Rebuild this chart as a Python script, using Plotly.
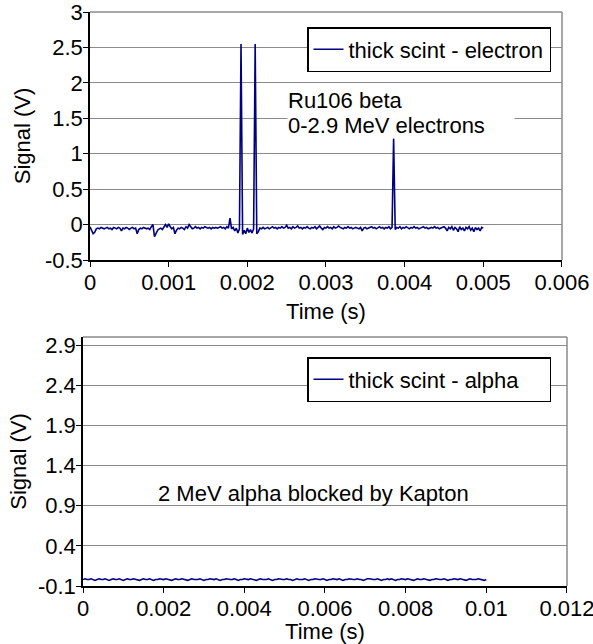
import plotly.graph_objects as go

W, H = 593, 644

# ---------------- data ----------------
# top chart: thick scint - electron (sampled every 20 us, 0 .. 0.005 s)
electron_dt = 0.00002
electron_signal = [
    -0.03, -0.08, -0.13, -0.11, -0.06, -0.05, -0.06, -0.04, -0.05, -0.06,
    -0.05, -0.04, -0.06, -0.05, -0.07, -0.04, -0.05, -0.06, -0.04, -0.05,
    -0.09, -0.05, -0.06, -0.04, -0.05, -0.07, -0.05, -0.04, -0.06, -0.05,
    -0.13, -0.07, -0.05, -0.06, -0.04, -0.05, -0.06, -0.05, -0.07, -0.03,
    0.00, -0.17, -0.12, -0.08, -0.06, -0.05, -0.07, -0.03, 0.00, -0.04,
    0.01, -0.03, -0.06, -0.04, -0.13, -0.08, -0.05, -0.06, -0.04, -0.05,
    -0.07, -0.03, -0.05, 0.00, -0.04, -0.06, -0.05, -0.03, -0.05, -0.04,
    -0.06, -0.04, -0.05, -0.03, -0.04, -0.05, -0.04, -0.06, -0.04, -0.05,
    -0.04, -0.05, -0.04, -0.03, -0.05, -0.04, -0.06, -0.03, -0.05, 0.09,
    -0.06, -0.04, -0.09, -0.05, -0.12, -0.06, 2.55, -0.14, -0.08, -0.13,
    -0.05, -0.11, -0.07, -0.12, -0.06, 2.55, -0.13, -0.10, -0.05, -0.06,
    -0.04, -0.06, -0.05, -0.04, -0.06, -0.05, -0.03, -0.05, -0.04, -0.06,
    -0.04, -0.05, -0.03, -0.05, -0.04, -0.01, -0.05, -0.04, -0.06, -0.03,
    -0.05, -0.04, -0.02, -0.05, -0.04, -0.06, -0.04, -0.05, -0.03, -0.05,
    -0.06, -0.04, -0.05, -0.03, -0.06, -0.04, -0.02, -0.05, -0.07, -0.04,
    -0.05, -0.03, -0.05, -0.04, -0.06, -0.03, -0.05, -0.04, -0.02, -0.04,
    -0.05, -0.06, -0.04, -0.05, -0.03, -0.05, -0.04, -0.06, -0.05, -0.04,
    -0.05, -0.06, -0.04, -0.09, -0.05, -0.04, -0.06, -0.05, -0.04, -0.03,
    -0.05, -0.04, -0.06, -0.05, -0.03, -0.05, -0.04, -0.06, -0.04, -0.05,
    -0.03, -0.06, -0.04, 1.22, -0.07, -0.04, -0.05, -0.03, -0.06, -0.04,
    -0.05, -0.03, -0.05, -0.06, -0.04, -0.05, -0.03, -0.05, -0.04, -0.06,
    -0.05, -0.04, -0.03, -0.05, -0.04, -0.06, -0.05, -0.04, -0.05, -0.03,
    -0.05, -0.04, -0.06, -0.05, -0.04, -0.03, -0.05, -0.09, -0.04, -0.06,
    -0.03, -0.08, -0.04, -0.06, -0.10, -0.03, -0.07, -0.05, -0.09, -0.04,
    -0.06, -0.03, -0.08, -0.05, -0.10, -0.04, -0.07, -0.05, -0.09, -0.04,
    -0.05,
]
electron_time = [i * electron_dt for i in range(len(electron_signal))]

# bottom chart: thick scint - alpha (sampled every 50 us, 0 .. 0.01 s)
alpha_dt = 0.00005
alpha_signal = [
    -0.02, -0.01, -0.02, -0.02, -0.01, -0.02, -0.03, -0.02, -0.01, -0.02,
    -0.02, -0.01, -0.02, -0.03, -0.02, -0.01, -0.02, -0.02, -0.01, -0.02,
    -0.03, -0.02, -0.01, -0.02, -0.02, -0.01, -0.02, -0.02, -0.03, -0.02,
    -0.01, -0.02, -0.02, -0.01, -0.02, -0.03, -0.02, -0.02, -0.01, -0.02,
    -0.02, -0.01, -0.02, -0.02, -0.03, -0.02, -0.01, -0.02, -0.02, -0.01,
    -0.02, -0.02, -0.03, -0.02, -0.01, -0.02, -0.02, -0.02, -0.01, -0.02,
    -0.03, -0.02, -0.02, -0.01, -0.02, -0.02, -0.01, -0.02, -0.03, -0.02,
    -0.02, -0.01, -0.02, -0.02, -0.02, -0.01, -0.02, -0.03, -0.02, -0.02,
    -0.01, -0.02, -0.02, -0.01, -0.02, -0.02, -0.03, -0.02, -0.01, -0.02,
    -0.02, -0.02, -0.01, -0.02, -0.03, -0.02, -0.02, -0.01, -0.02, -0.02,
    -0.02, -0.01, -0.02, -0.02, -0.03, -0.02, -0.01, -0.02, -0.02, -0.02,
    -0.01, -0.02, -0.03, -0.02, -0.02, -0.01, -0.02, -0.02, -0.02, -0.01,
    -0.02, -0.03, -0.02, -0.02, -0.01, -0.02, -0.02, -0.01, -0.02, -0.03,
    -0.02, -0.02, -0.01, -0.02, -0.02, -0.02, -0.01, -0.02, -0.02, -0.03,
    -0.02, -0.01, -0.01, -0.02, -0.02, -0.02, -0.01, -0.02, -0.03, -0.02,
    -0.02, -0.01, -0.02, -0.01, -0.02, -0.03, -0.02, -0.02, -0.01, -0.02,
    -0.02, -0.01, -0.02, -0.02, -0.03, -0.02, -0.01, -0.02, -0.02, -0.01,
    -0.02, -0.02, -0.03, -0.02, -0.02, -0.01, -0.02, -0.02, -0.02, -0.01,
    -0.02, -0.03, -0.02, -0.02, -0.01, -0.02, -0.02, -0.01, -0.02, -0.02,
    -0.03, -0.02, -0.01, -0.02, -0.02, -0.02, -0.01, -0.02, -0.02, -0.03,
    -0.02,
]
alpha_time = [i * alpha_dt for i in range(len(alpha_signal))]

electron_label = "thick scint - electron"
alpha_label = "thick scint - alpha"
time_title = "Time (s)"
signal_title = "Signal (V)"
top_xticks = [0, 0.001, 0.002, 0.003, 0.004, 0.005, 0.006]
top_yticks = [-0.5, 0, 0.5, 1, 1.5, 2, 2.5, 3]
bottom_xticks = [0, 0.002, 0.004, 0.006, 0.008, 0.01, 0.012]
bottom_yticks = [-0.1, 0.4, 0.9, 1.4, 1.9, 2.4, 2.9]
top_note = ["Ru106 beta", "0-2.9 MeV electrons"]
bottom_note = "2 MeV alpha blocked by Kapton"

# ---------------- layout helpers ----------------
FONT = "Liberation Sans, Arial, sans-serif"
FS = 22
LINE = "#000080"
GRID = "#8a8a8a"

def px_x(p):
    return p / W

def px_y(p):
    return 1 - p / H

fig = go.Figure()
fig.add_trace(go.Scatter(x=electron_time, y=electron_signal, mode="lines",
                         name=electron_label, line=dict(color=LINE, width=1.6),
                         xaxis="x", yaxis="y", legend="legend"))
fig.add_trace(go.Scatter(x=alpha_time, y=alpha_signal, mode="lines",
                         name=alpha_label, line=dict(color=LINE, width=1.6),
                         xaxis="x2", yaxis="y2", legend="legend2"))

def xaxis(domain, rng, ticks, anchor, standoff):
    return dict(domain=domain, range=rng, tickvals=ticks,
                ticktext=[("%g" % t) for t in ticks], anchor=anchor,
                automargin=False, ticklabelstandoff=-3,
                ticklabeloverflow="allow",
                showgrid=False, zeroline=False, showline=True, linecolor="black",
                linewidth=1.5, ticks="outside", ticklen=5, tickcolor="black",
                tickfont=dict(family=FONT, size=FS, color="black"),
                title=dict(text=time_title, standoff=standoff,
                           font=dict(family=FONT, size=FS, color="black")),
                mirror=False)

def yaxis(domain, rng, ticks, anchor, standoff):
    return dict(domain=domain, range=rng, tickvals=ticks,
                ticktext=[("%g" % t) for t in ticks], anchor=anchor,
                automargin=False, ticklabelstandoff=-4,
                ticklabeloverflow="allow",
                showgrid=True, gridcolor=GRID, gridwidth=1.2, zeroline=False,
                showline=True, linecolor="black", linewidth=1.5,
                ticks="outside", ticklen=5, tickcolor="black",
                tickfont=dict(family=FONT, size=FS, color="black"),
                title=dict(text=signal_title, standoff=standoff,
                           font=dict(family=FONT, size=FS, color="black")))

top_dom_x = [px_x(90), px_x(562)]
top_dom_y = [px_y(260), px_y(12)]
bot_dom_x = [px_x(83), px_x(567)]
bot_dom_y = [px_y(586), px_y(337)]

legend_style = dict(xanchor="left", yanchor="top", orientation="h",
                    entrywidth=196, entrywidthmode="pixels",
                    bordercolor="black", borderwidth=1.5, bgcolor="white",
                    font=dict(family=FONT, size=FS, color="black"),
                    itemwidth=30, tracegroupgap=0)

fig.update_layout(
    width=W, height=H, margin=dict(l=0, r=0, t=0, b=0, autoexpand=False),
    paper_bgcolor="white", plot_bgcolor="white",
    font=dict(family=FONT, size=FS, color="black"),
    xaxis=xaxis(top_dom_x, [0, 0.006 * 1.0001], top_xticks, "y", 9),
    yaxis=yaxis(top_dom_y, [-0.5, 3.0003], top_yticks, "x", 8),
    xaxis2=xaxis(bot_dom_x, [0, 0.012 * 1.0001], bottom_xticks, "y2", 5),
    yaxis2=yaxis(bot_dom_y, [-0.1, 3.0003], bottom_yticks, "x2", 5),
    legend=dict(x=px_x(307), y=px_y(27), **legend_style),
    legend2=dict(x=px_x(307), y=px_y(357), **legend_style),
    showlegend=True,
)

# plot-area borders (right / top) in grey
for dx, dy in ((top_dom_x, top_dom_y), (bot_dom_x, bot_dom_y)):
    fig.add_shape(type="line", xref="paper", yref="paper",
                  x0=dx[1], x1=dx[1], y0=dy[0], y1=dy[1],
                  line=dict(color=GRID, width=1.5), layer="below")
    fig.add_shape(type="line", xref="paper", yref="paper",
                  x0=dx[0], x1=dx[1], y0=dy[1], y1=dy[1],
                  line=dict(color=GRID, width=1.5), layer="below")

# notes
fig.add_annotation(text=top_note[0], xref="paper", yref="paper",
                   x=px_x(287), y=px_y(100.5), xanchor="left", yanchor="middle",
                   align="left", width=226, showarrow=False, bgcolor="white",
                   borderpad=0, font=dict(family=FONT, size=FS, color="black"))
fig.add_annotation(text=top_note[1], xref="paper", yref="paper",
                   x=px_x(287), y=px_y(125), xanchor="left", yanchor="middle",
                   align="left", width=226, showarrow=False, bgcolor="white",
                   borderpad=0, font=dict(family=FONT, size=FS, color="black"))
fig.add_annotation(text=bottom_note, xref="paper", yref="paper",
                   x=px_x(156), y=px_y(493), xanchor="left", yanchor="middle",
                   showarrow=False,
                   font=dict(family=FONT, size=FS, color="black"))

fig.write_html("out.html",
               config={"displayModeBar": False},
               post_script="document.body.style.margin='0';"
                           "document.body.style.padding='0';")
